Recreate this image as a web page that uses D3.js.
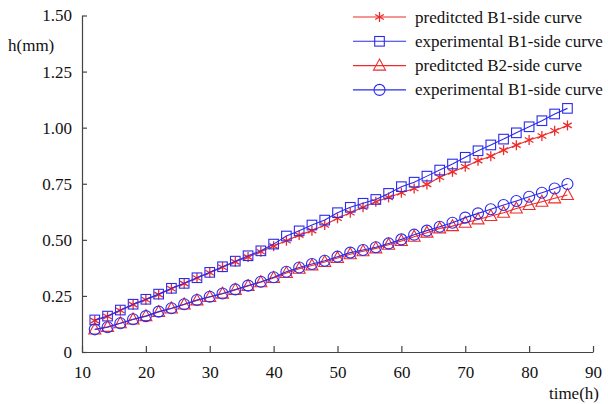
<!DOCTYPE html>
<html>
<head>
<meta charset="utf-8">
<script src="https://cdn.jsdelivr.net/npm/d3@7"></script>
<style>
  body { margin: 0; background: #fff; }
</style>
</head>
<body>
<svg id="chart" width="608" height="404"></svg>
<script>
// time in hours (x)
const hours = [12, 14, 16, 18, 20, 22, 24, 26, 28, 30, 32, 34, 36, 38, 40, 42, 44, 46, 48,
  50, 52, 54, 56, 58, 60, 62, 64, 66, 68, 70, 72, 74, 76, 78, 80, 82, 84, 86]

const predB1 = [0.140, 0.158, 0.185, 0.211, 0.233, 0.256, 0.282, 0.305, 0.330, 0.353, 0.378, 0.402, 0.423,
  0.447, 0.472, 0.496, 0.521, 0.541, 0.566, 0.596, 0.621, 0.645, 0.670, 0.689, 0.710, 0.729,
  0.747, 0.779, 0.803, 0.826, 0.853, 0.873, 0.900, 0.922, 0.945, 0.963, 0.986, 1.010]

const expB1 = [0.143, 0.160, 0.187, 0.213, 0.235, 0.258, 0.284, 0.306, 0.331, 0.355, 0.380, 0.405, 0.429,
  0.451, 0.481, 0.517, 0.540, 0.566, 0.588, 0.621, 0.645, 0.663, 0.680, 0.707, 0.737, 0.757,
  0.784, 0.811, 0.838, 0.868, 0.897, 0.923, 0.949, 0.977, 1.004, 1.031, 1.061, 1.086]

const predB2 = [0.100, 0.112, 0.128, 0.145, 0.160, 0.178, 0.194, 0.212, 0.230, 0.245, 0.260, 0.277, 0.294,
  0.311, 0.330, 0.352, 0.371, 0.386, 0.401, 0.419, 0.436, 0.449, 0.462, 0.478, 0.495, 0.514,
  0.532, 0.551, 0.561, 0.576, 0.591, 0.606, 0.621, 0.640, 0.655, 0.670, 0.685, 0.700]

const expB2 = [0.101, 0.110, 0.128, 0.146, 0.160, 0.180, 0.195, 0.213, 0.232, 0.246, 0.261, 0.279, 0.296,
  0.313, 0.333, 0.358, 0.377, 0.392, 0.407, 0.425, 0.443, 0.455, 0.467, 0.484, 0.502, 0.523,
  0.541, 0.558, 0.576, 0.599, 0.618, 0.636, 0.655, 0.673, 0.692, 0.710, 0.729, 0.749]

const xTicks = [10, 20, 30, 40, 50, 60, 70, 80, 90]
const yTicks = [0, 0.25, 0.5, 0.75, 1.0, 1.25, 1.5]
const yTickLabels = ['0', '0.25', '0.50', '0.75', '1.00', '1.25', '1.50']

const RED = '#ee2b2b'
const BLUE = '#2b2bee'
const SERIF = "'Liberation Serif', 'Times New Roman', 'DejaVu Serif', serif"

const series = [
  { name: 'preditcted B1-side curve', values: predB1, color: RED, marker: 'star' },
  { name: 'experimental B1-side curve', values: expB1, color: BLUE, marker: 'square' },
  { name: 'preditcted B2-side curve', values: predB2, color: RED, marker: 'triangle' },
  { name: 'experimental B1-side curve', values: expB2, color: BLUE, marker: 'circle' }
]

const svg = d3.select('#chart')
const x = d3.scaleLinear().domain([10, 90]).range([82, 593])
const y = d3.scaleLinear().domain([0, 1.5]).range([352, 15.5])

// axes
const xAxis = svg.append('g').attr('transform', 'translate(0,352)')
  .call(d3.axisBottom(x).tickValues(xTicks).tickSizeInner(-6).tickSizeOuter(0).tickPadding(12))
const yAxis = svg.append('g').attr('transform', 'translate(82,0)')
  .call(d3.axisLeft(y).tickValues(yTicks).tickSizeInner(-5).tickSizeOuter(0).tickPadding(10)
    .tickFormat((d, i) => yTickLabels[i]))

for (const ax of [xAxis, yAxis]) {
  ax.attr('font-family', null).attr('font-size', null)
  ax.select('.domain').attr('stroke', '#444').attr('stroke-width', 1.2)
  ax.selectAll('.tick line').attr('stroke', '#444').attr('stroke-width', 1.2)
  ax.selectAll('.tick text').style('font-size', '17px').style('font-family', SERIF).attr('fill', '#111')
}
xAxis.selectAll('.tick text').attr('dy', '0.85em')

svg.append('text').attr('x', 8).attr('y', 51).style('font-size', '17px').style('font-family', SERIF)
  .attr('fill', '#111').text('h(mm)')
svg.append('text').attr('x', 599).attr('y', 399).style('font-size', '17px').style('font-family', SERIF)
  .attr('fill', '#111').attr('text-anchor', 'end').text('time(h)')

// marker drawing
function drawMarker (g, type, color) {
  if (type === 'star') {
    for (const a of [0, 60, 120]) {
      const r = Math.PI * a / 180
      g.append('line')
        .attr('x1', -5 * Math.sin(r)).attr('y1', -5 * Math.cos(r))
        .attr('x2', 5 * Math.sin(r)).attr('y2', 5 * Math.cos(r))
        .attr('stroke', color).attr('stroke-width', 1.3)
    }
  } else if (type === 'square') {
    g.append('rect').attr('x', -4.8).attr('y', -4.8).attr('width', 9.6).attr('height', 9.6)
      .attr('fill', 'none').attr('stroke', color).attr('stroke-width', 1.1)
  } else if (type === 'triangle') {
    g.append('path').attr('d', 'M0,-6.5L6,4.5L-6,4.5Z')
      .attr('fill', 'none').attr('stroke', color).attr('stroke-width', 1.1)
  } else {
    g.append('circle').attr('r', 5.5)
      .attr('fill', 'none').attr('stroke', color).attr('stroke-width', 1.1)
  }
}

const line = d3.line().x((d, i) => x(hours[i])).y(d => y(d))

series.forEach(s => {
  const g = svg.append('g')
  g.append('path').datum(s.values).attr('d', line)
    .attr('fill', 'none').attr('stroke', s.color).attr('stroke-width', 1.1)
  s.values.forEach((v, i) => {
    const m = g.append('g').attr('transform', `translate(${x(hours[i])},${y(v)})`)
    drawMarker(m, s.marker, s.color)
  })
})

// legend
const legend = svg.append('g')
series.forEach((s, i) => {
  const ly = 17 + i * 24.3
  const lg = legend.append('g').attr('transform', `translate(0,${ly})`)
  lg.append('line').attr('x1', 353).attr('x2', 406).attr('y1', 0).attr('y2', 0)
    .attr('stroke', s.color).attr('stroke-width', 1.1)
  drawMarker(lg.append('g').attr('transform', 'translate(379.5,0)'), s.marker, s.color)
  lg.append('text').attr('x', 415).attr('y', 5.5).style('font-size', '17px').style('font-family', SERIF)
    .attr('fill', '#111').text(s.name)
})
</script>
</body>
</html>
